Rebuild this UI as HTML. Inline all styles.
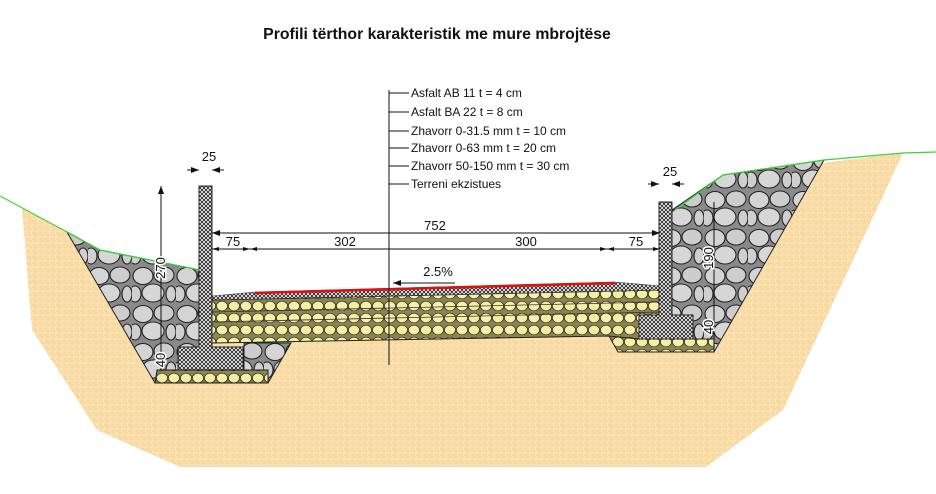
<!DOCTYPE html>
<html><head><meta charset="utf-8"><style>
html,body{margin:0;padding:0;background:#fff;width:936px;height:494px;overflow:hidden}
svg{display:block}
text{font-family:"Liberation Sans",sans-serif;fill:#111}
</style></head><body>
<svg width="936" height="494" viewBox="0 0 936 494">
<defs>
<pattern id="tan" width="6" height="6" patternUnits="userSpaceOnUse">
<rect width="6" height="6" fill="#f8d9a0"/><path d="M0 3H6M3 0V3M1.5 3V6" stroke="#fbe8c4" stroke-width="0.8"/>
</pattern>
<pattern id="stones" width="44" height="38" patternUnits="userSpaceOnUse">
<rect width="44" height="38" fill="#8a8a8a"/>
<ellipse cx="11" cy="10" rx="10" ry="8.5" fill="#d4d4d4" stroke="#222" stroke-width="1.1"/>
<ellipse cx="32" cy="9" rx="10" ry="8" fill="#cdcdcd" stroke="#222" stroke-width="1.1"/>
<ellipse cx="21" cy="27" rx="11" ry="9" fill="#d6d6d6" stroke="#222" stroke-width="1.1"/>
<ellipse cx="3" cy="28" rx="6" ry="8" fill="#cfcfcf" stroke="#222" stroke-width="1.1"/>
<ellipse cx="39" cy="28" rx="5" ry="8" fill="#cfcfcf" stroke="#222" stroke-width="1.1"/>
</pattern>
<pattern id="gravel" width="24" height="12" patternUnits="userSpaceOnUse">
<rect width="24" height="12" fill="#8c8450"/>
<ellipse cx="6" cy="6" rx="5.6" ry="4.8" fill="#f6f0a8" stroke="#222" stroke-width="0.7"/>
<ellipse cx="18" cy="6" rx="5.6" ry="4.8" fill="#f3eda0" stroke="#222" stroke-width="0.7"/>
</pattern>
<pattern id="hatch" width="4" height="4" patternUnits="userSpaceOnUse">
<rect width="4" height="4" fill="#fff"/><path d="M0 0L4 4M4 0L0 4" stroke="#222" stroke-width="0.9"/>
</pattern>
<marker id="ar" markerWidth="8" markerHeight="6" refX="8" refY="3" orient="auto-start-reverse"><path d="M0 0L8 3L0 6z" fill="#111"/></marker>
</defs>

<text x="437" y="39" font-size="15.8" font-weight="bold" text-anchor="middle">Profili tërthor karakteristik me mure mbrojtëse</text>

<polygon fill="url(#tan)" points="22,208 67,232 100,250 200,270 675,210 723,175 903,153 783,410 706,467 180,467 97,430 32,330"/>
<rect x="212" y="190" width="448" height="106" fill="#fff"/>

<polygon fill="url(#stones)" stroke="#222" points="67,232 100,250 200,270 200,347 178,347 178,370 157,370 157,383 155,383"/>
<polygon fill="url(#stones)" stroke="#222" points="244,343 291,343 268,383 244,383"/>
<polygon fill="url(#stones)" stroke="#222" points="672,210 723,175 824,160 714,352 693,352 693,315 672,315"/>

<polygon fill="url(#gravel)" stroke="#222" points="212,300 660,290 660,315 639,315 639,339 613,339 609,336 212,343"/>
<polygon fill="url(#gravel)" stroke="#222" points="157,370 268,370 268,383 155,383"/>
<polygon fill="url(#gravel)" stroke="#222" points="609,336 639,339 693,339 714,339 714,352 618,352"/>
<line x1="212" y1="312" x2="660" y2="302" stroke="#333" stroke-width="0.8"/>
<line x1="212" y1="322" x2="660" y2="312" stroke="#333" stroke-width="0.8"/>

<polygon fill="url(#hatch)" stroke="#333" stroke-width="0.6" points="212,296 255,292 615,282 660,286 660,290 212,300"/>
<line x1="255" y1="293" x2="615" y2="283" stroke="#e01010" stroke-width="2.5"/>

<path d="M199 186H212V347H243V370H178V347H199Z" fill="url(#hatch)" stroke="#222"/>
<path d="M659 202H672V315H693V339H639V315H659Z" fill="url(#hatch)" stroke="#222"/>

<polyline points="0,196 67,232 100,250 200,270" fill="none" stroke="#3bd23b" stroke-width="1.2"/>
<polyline points="675,210 723,175 824,160 903,153 936,152" fill="none" stroke="#3bd23b" stroke-width="1.2"/>

<line x1="389" y1="90" x2="389" y2="365" stroke="#111"/>
<g font-size="12">
<line x1="389" y1="93" x2="409" y2="93" stroke="#111"/><text x="411" y="97">Asfalt AB 11 t = 4 cm</text>
<line x1="389" y1="112" x2="409" y2="112" stroke="#111"/><text x="411" y="116">Asfalt BA 22 t = 8 cm</text>
<line x1="389" y1="131" x2="409" y2="131" stroke="#111"/><text x="411" y="135">Zhavorr 0-31.5 mm  t = 10 cm</text>
<line x1="389" y1="148" x2="409" y2="148" stroke="#111"/><text x="411" y="152">Zhavorr 0-63 mm t = 20 cm</text>
<line x1="389" y1="166" x2="409" y2="166" stroke="#111"/><text x="411" y="170">Zhavorr 50-150 mm t = 30 cm</text>
<line x1="389" y1="184" x2="409" y2="184" stroke="#111"/><text x="411" y="188">Terreni ekzistues</text>
</g>

<g font-size="13" stroke-width="1">
<line x1="212" y1="233" x2="660" y2="233" stroke="#111" marker-start="url(#ar)" marker-end="url(#ar)"/>
<text x="435" y="230" text-anchor="middle">752</text>
<line x1="212" y1="249" x2="660" y2="249" stroke="#111"/>
<path d="M212 249l7-2v4z M250 249l-7-2v4z M250 249l7-2v4z M607 249l-7-2v4z M607 249l7-2v4z M660 249l-7-2v4z" fill="#111"/>
<text x="233" y="246" text-anchor="middle">75</text>
<text x="345" y="246" text-anchor="middle">302</text>
<text x="526" y="246" text-anchor="middle">300</text>
<text x="636" y="246" text-anchor="middle">75</text>
<text x="438" y="276" text-anchor="middle">2.5%</text>
<line x1="455" y1="283" x2="393" y2="283" stroke="#111" marker-end="url(#ar)"/>
<line x1="161" y1="370" x2="161" y2="186" stroke="#111" marker-end="url(#ar)"/>
<text transform="translate(161,268) rotate(-90)" text-anchor="middle" y="4" style="paint-order:stroke" stroke="#fff" stroke-width="3">270</text>
<text transform="translate(161,360) rotate(-90)" text-anchor="middle" y="4" style="paint-order:stroke" stroke="#fff" stroke-width="3">40</text>
<line x1="714" y1="202" x2="714" y2="352" stroke="#111"/>
<text transform="translate(709,258) rotate(-90)" text-anchor="middle" y="4" style="paint-order:stroke" stroke="#fff" stroke-width="3">190</text>
<text transform="translate(709,327) rotate(-90)" text-anchor="middle" y="4" style="paint-order:stroke" stroke="#fff" stroke-width="3">40</text>
<text x="209" y="161" text-anchor="middle">25</text>
<line x1="187" y1="170" x2="199" y2="170" stroke="#111" marker-end="url(#ar)"/>
<line x1="224" y1="170" x2="212" y2="170" stroke="#111" marker-end="url(#ar)"/>
<text x="670" y="176" text-anchor="middle">25</text>
<line x1="648" y1="184" x2="659" y2="184" stroke="#111" marker-end="url(#ar)"/>
<line x1="684" y1="184" x2="672" y2="184" stroke="#111" marker-end="url(#ar)"/>
</g>
</svg>
</body></html>
